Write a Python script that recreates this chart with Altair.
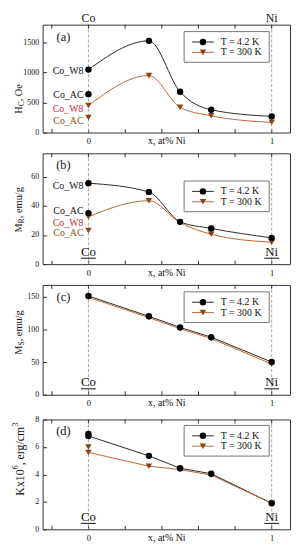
import altair as alt
import pandas as pd

FONT = "Liberation Serif"
W = 250

# ---------------- data ----------------
x_comp = [0, 0.33, 0.5, 0.67, 1]
series = ["T = 4.2 K", "T = 300 K"]

hc_42 = [1050, 1530, 680, 380, 270]
hc_300 = [450, 950, 420, 280, 170]
hc_extra_42 = [640]
hc_extra_300 = [250]
hc_labels = ["Co_W8", "Co_AC", "Co_W8", "Co_AC"]
hc_label_vals = [1050, 640, 450, 250]

mr_42 = [55.5, 49.5, 29, 24.5, 18]
mr_300 = [32.5, 43.5, 28.5, 20.5, 15]
mr_extra_42 = [35]
mr_extra_300 = [23]
mr_labels = ["Co_W8", "Co_AC", "Co_W8", "Co_AC"]
mr_label_vals = [55.5, 35, 32.5, 23]

ms_42 = [151, 120, 103, 88, 50]
ms_300 = [149, 118, 101, 86, 47]

k_42 = [6.8, 5.35, 4.45, 4.05, 1.9]
k_300 = [5.6, 4.6, 4.35, 3.95, 1.9]
k_extra_42 = [6.95]
k_extra_300 = [6.0]

hc_ticks = [0, 500, 1000, 1500]
mr_ticks = [0, 20, 40, 60]
ms_ticks = [0, 50, 100, 150]
k_ticks = [0, 2, 4, 6, 8]
x_ticks = [-0.2, 0, 0.2, 0.4, 0.6, 0.8, 1.0]
end_names = ["Co", "Ni"]
end_x = [0, 1]
x_title = "x, at% Ni"

# ---------------- styling helpers ----------------
BLACK = "#111111"
LINE42 = "#2a2a2a"
LINE300 = "#b8693a"
TRI = "#8a4512"
W8_COLORS_A = [BLACK, BLACK, "#d8283c", "#8b5425"]
W8_COLORS_B = [BLACK, BLACK, "#a83a26", "#8b5425"]

TW = {" ": 250, ",": 250, ".": 250, "/": 278, "%": 833, "C": 667, "H": 722, "K": 722,
      "M": 889, "N": 722, "O": 722, "R": 667, "S": 556, "T": 611, "W": 944, "_": 500,
      "a": 444, "c": 444, "e": 444, "g": 500, "i": 278, "m": 778, "o": 500, "r": 333,
      "t": 278, "u": 500, "x": 500, "=": 564}


def tw(text, size):
    return sum(TW.get(ch, 500) for ch in text) * size / 1000.0


dummy = pd.DataFrame({"a": [0]})


def panel(H, v42, v300, ex42, ex300, ydom, yticks, interp, letter, leg_top,
          title_pieces, title_cy, title_x, labels=None, label_vals=None,
          label_colors=None, label_dy=None, top_names=False):
    xs = alt.Scale(domain=[-0.25, 1.1], nice=False, zero=False)
    ys = alt.Scale(domain=ydom, nice=False, zero=False)
    xaxis = alt.Axis(values=x_ticks, offset=-4, tickSize=4, domain=False, grid=False,
                     labelExpr="datum.value == 0 ? '0' : (datum.value == 1 ? '1' : '')",
                     labelOverlap=False, labelFlush=False, labelFont=FONT, labelFontSize=8.5,
                     labelColor=BLACK, labelPadding=4, tickColor="#333",
                     title=x_title, titleFont=FONT, titleFontSize=10, titleFontWeight="normal",
                     titleColor=BLACK, titleY=12, titleBaseline="middle")
    yaxis = alt.Axis(values=yticks, offset=-4, tickSize=4, domain=False, grid=False, format="d",
                     labelFont=FONT, labelFontSize=8, labelColor=BLACK, labelPadding=4,
                     tickColor="#333", title=None)

    def X(f="x"):
        return alt.X(f"{f}:Q", scale=xs, axis=xaxis)

    def Y(f="v"):
        return alt.Y(f"{f}:Q", scale=ys, axis=yaxis)

    df42 = pd.DataFrame({"x": x_comp, "v": v42})
    df300 = pd.DataFrame({"x": x_comp, "v": v300})
    pts42 = pd.DataFrame({"x": x_comp + [0] * len(ex42), "v": v42 + ex42})
    pts300 = pd.DataFrame({"x": x_comp + [0] * len(ex300), "v": v300 + ex300})
    ends = pd.DataFrame({"x": end_x, "name": end_names})
    tks = pd.DataFrame({"x": x_ticks})

    layers = []
    layers.append(alt.Chart(ends).mark_rule(color="#9a9a9a", strokeDash=[3, 2], strokeWidth=0.9)
                  .encode(x=X()))
    # inward ticks along the top edge
    layers.append(alt.Chart(tks).mark_rule(color="#333", strokeWidth=1)
                  .encode(x=X(), y=alt.value(0), y2=alt.value(4)))
    layers.append(alt.Chart(df42).mark_line(color=LINE42, strokeWidth=1, interpolate=interp)
                  .encode(x=X(), y=Y()))
    layers.append(alt.Chart(df300).mark_line(color=LINE300, strokeWidth=1, interpolate=interp)
                  .encode(x=X(), y=Y()))
    layers.append(alt.Chart(pts300).mark_point(shape="triangle-down", filled=True, size=42,
                                               color=TRI, opacity=1)
                  .encode(x=X(), y=Y()))
    layers.append(alt.Chart(pts42).mark_point(shape="circle", filled=True, size=42,
                                              color="#000", opacity=1)
                  .encode(x=X(), y=Y()))

    if labels:
        for t, v, c, d in zip(labels, label_vals, label_colors, label_dy):
            ldf = pd.DataFrame({"x": [0], "v": [v], "t": [t]})
            layers.append(alt.Chart(ldf).mark_text(font=FONT, fontSize=10, color=c, align="right",
                                                   baseline="middle", dx=-5, dy=d)
                          .encode(x=X(), y=Y(), text="t:N"))

    if top_names:
        layers.append(alt.Chart(ends).mark_text(font=FONT, fontSize=12, color=BLACK, align="center",
                                                baseline="alphabetic")
                      .encode(x=X(), y=alt.value(-3), text="name:N"))
    else:
        layers.append(alt.Chart(ends).mark_text(font=FONT, fontSize=13, color=BLACK, align="center",
                                                baseline="alphabetic")
                      .encode(x=X(), y=alt.value(H - 8.5), text="name:N"))
        layers.append(alt.Chart(ends).mark_rule(color=BLACK, strokeWidth=1, xOffset=-7.5, x2Offset=7.5)
                      .encode(x=X(), x2=alt.X2("x"), y=alt.value(H - 6)))

    # panel letter
    layers.append(alt.Chart(dummy).mark_text(text=letter, font=FONT, fontSize=12.5, color=BLACK,
                                             align="center", baseline="middle")
                  .encode(x=alt.value(21), y=alt.value(12)))

    # legend
    bx0, bx1 = W - 107, W - 21
    by0, by1 = leg_top, leg_top + 31
    rows = [by0 + 10.5, by0 + 21]
    layers.append(alt.Chart(dummy).mark_rect(fill="white", stroke="#777", strokeWidth=1)
                  .encode(x=alt.value(bx0), x2=alt.value(bx1), y=alt.value(by0), y2=alt.value(by1)))
    styles = [(LINE42, "circle", "#000"), (LINE300, "triangle-down", TRI)]
    for name, ry, (lc, shp, mc) in zip(series, rows, styles):
        layers.append(alt.Chart(dummy).mark_rule(color=lc, strokeWidth=1)
                      .encode(x=alt.value(bx0 + 8), x2=alt.value(bx0 + 30), y=alt.value(ry)))
        layers.append(alt.Chart(dummy).mark_point(shape=shp, filled=True, size=42, color=mc, opacity=1)
                      .encode(x=alt.value(bx0 + 19), y=alt.value(ry)))
        layers.append(alt.Chart(dummy).mark_text(text=name, font=FONT, fontSize=10, color=BLACK,
                                                 align="left", baseline="middle")
                      .encode(x=alt.value(bx0 + 37), y=alt.value(ry)))

    # rotated y-axis title built from pieces (text, size, shift)
    L = sum(tw(t, s) for t, s, _ in title_pieces)
    start = title_cy + L / 2
    off = 0
    for t, s, d in title_pieces:
        layers.append(alt.Chart(dummy).mark_text(text=t, font=FONT, fontSize=s, color=BLACK, angle=270,
                                                 align="left", baseline="middle", dx=off, dy=d)
                      .encode(x=alt.value(title_x), y=alt.value(start)))
        off += tw(t, s)

    return alt.layer(*layers).properties(width=W, height=H)


pa = panel(109, hc_42, hc_300, hc_extra_42, hc_extra_300, [0, 1800], hc_ticks, "monotone", "(a)", 7,
           [("H", 10.5, 0), ("C", 7.5, 3), (", Oe", 10.5, 0)], 75, -24,
           labels=hc_labels, label_vals=hc_label_vals, label_colors=W8_COLORS_A,
           label_dy=[1, 1, 4, 4], top_names=True)
pb = panel(112, mr_42, mr_300, mr_extra_42, mr_extra_300, [0, 76], mr_ticks, "monotone", "(b)", 28,
           [("M", 10.5, 0), ("R", 7.5, 3), (", emu/g", 10.5, 0)], 57, -24,
           labels=mr_labels, label_vals=mr_label_vals, label_colors=W8_COLORS_B,
           label_dy=[3, -2, 6, 2])
pc = panel(111, ms_42, ms_300, [], [], [0, 168], ms_ticks, "linear", "(c)", 7,
           [("M", 10.5, 0), ("S", 7.5, 3), (", emu/g", 10.5, 0)], 48, -24)
pd_ = panel(111, k_42, k_300, k_extra_42, k_extra_300, [0, 8], k_ticks, "linear", "(d)", 6,
            [("Kx10", 12, 0), ("6", 8, -4), (", erg/cm", 12, 0), ("3", 8, -4)], 40, -23)

chart = (alt.vconcat(pa, pb, pc, pd_, spacing=6)
         .properties(padding={"left": 3, "right": 0, "top": 0, "bottom": 0})
         .configure_view(stroke="#333", strokeWidth=1))

chart.save("out.html", embed_options={"renderer": "svg", "actions": False})
